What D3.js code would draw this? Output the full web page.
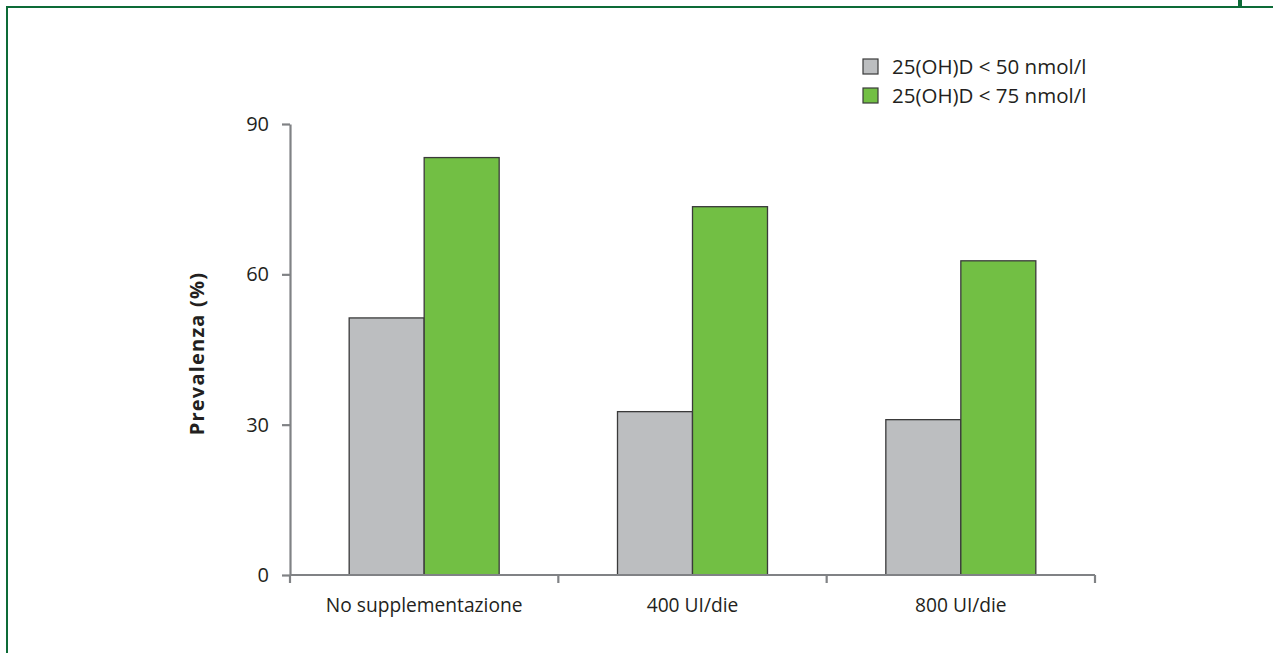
<!DOCTYPE html>
<html>
<head>
<meta charset="utf-8">
<script src="https://cdn.jsdelivr.net/npm/d3@7/dist/d3.min.js"></script>
<style>
  html, body { margin: 0; padding: 0; background: #ffffff; }
  svg { display: block; }
  text { font-family: "Open Sans", "Noto Sans", sans-serif; fill: #231f20; }
</style>
</head>
<body>
<svg id="chart" width="1273" height="653"></svg>
<script>
// Prevalence of low vitamin D levels by supplementation group
const categories = ["No supplementazione", "400 UI/die", "800 UI/die"];
const seriesNames = ["25(OH)D < 50 nmol/l", "25(OH)D < 75 nmol/l"];
const below50 = [51.3, 32.6, 31.0];
const below75 = [83.3, 73.5, 62.7];
const yTicks = [0, 30, 60, 90];
const yLabel = "Prevalenza (%)";
const seriesColors = ["#bcbec0", "#72bf44"];

const svg = d3.select("#chart");
const W = 1273, H = 653;

// Page frame: top and left rule with a small marker at the top right
svg.append("rect").attr("x", 6).attr("y", 6).attr("width", W - 6).attr("height", 2).attr("fill", "#0d6b37");
svg.append("rect").attr("x", 6).attr("y", 6).attr("width", 2).attr("height", H - 6).attr("fill", "#0d6b37");
svg.append("rect").attr("x", 1238).attr("y", 0).attr("width", 4).attr("height", 8).attr("fill", "#0d6b37");

const plot = { left: 290, right: 1095, top: 124, bottom: 575 };

const y = d3.scaleLinear().domain([0, 90]).range([plot.bottom, plot.top]);
const x0 = d3.scaleBand().domain(categories).range([plot.left, plot.right]).paddingInner(0).paddingOuter(0);
const pairHalf = 75;
const x1 = d3.scaleBand().domain(seriesNames)
  .range([x0.bandwidth() / 2 - pairHalf, x0.bandwidth() / 2 + pairHalf]).padding(0);

const axisColor = "#808285";

// Bars
const rows = categories.map((c, i) => ({ cat: c, vals: [below50[i], below75[i]] }));
const groups = svg.append("g").selectAll("g").data(rows).join("g")
  .attr("transform", d => `translate(${x0(d.cat)},0)`);
groups.selectAll("rect").data(d => d.vals.map((v, j) => ({ name: seriesNames[j], v, j })))
  .join("rect")
  .attr("x", d => x1(d.name))
  .attr("y", d => y(d.v))
  .attr("width", x1.bandwidth())
  .attr("height", d => y(0) - y(d.v))
  .attr("fill", d => seriesColors[d.j])
  .attr("stroke", "#3a3a3a")
  .attr("stroke-width", 1.3);

// Y axis
const yAxis = svg.append("g").attr("transform", `translate(${plot.left},0)`)
  .call(d3.axisLeft(y).tickValues(yTicks).tickSize(8).tickSizeOuter(0).tickPadding(13));
yAxis.select(".domain").attr("stroke", axisColor).attr("stroke-width", 2.2);
yAxis.selectAll(".tick line").attr("stroke", axisColor).attr("stroke-width", 2.2);
yAxis.selectAll(".tick text").attr("font-size", 20).attr("fill", "#231f20")
  .style("font-family", "'Open Sans', sans-serif");

// X axis: baseline with ticks at the category boundaries
const xBoundaries = categories.map(c => x0(c)).concat([plot.right]);
const xAxis = svg.append("g");
xAxis.append("line").attr("x1", plot.left).attr("x2", plot.right)
  .attr("y1", y(0)).attr("y2", y(0)).attr("stroke", axisColor).attr("stroke-width", 2.2);
xAxis.selectAll("line.tk").data(xBoundaries).join("line").attr("class", "tk")
  .attr("x1", d => d).attr("x2", d => d)
  .attr("y1", y(0)).attr("y2", y(0) + 8)
  .attr("stroke", axisColor).attr("stroke-width", 2.2);
xAxis.selectAll("text").data(categories).join("text")
  .attr("x", d => x0(d) + x0.bandwidth() / 2)
  .attr("y", y(0) + 37)
  .attr("text-anchor", "middle")
  .attr("font-size", 19.2)
  .text(d => d);

// Y axis title
svg.append("text")
  .attr("transform", `translate(204,${(plot.top + plot.bottom) / 2 + 4}) rotate(-90)`)
  .attr("text-anchor", "middle")
  .attr("font-size", 20)
  .attr("font-weight", "bold")
  .attr("letter-spacing", 1.2)
  .text(yLabel);

// Legend
const legend = svg.append("g").attr("transform", "translate(863,59)");
const li = legend.selectAll("g").data(seriesNames).join("g")
  .attr("transform", (d, i) => `translate(0,${i * 29})`);
li.append("rect").attr("width", 15).attr("height", 15)
  .attr("fill", (d, i) => seriesColors[i])
  .attr("stroke", "#3a3a3a").attr("stroke-width", 1.2);
li.append("text").attr("x", 29).attr("y", 15).attr("font-size", 20.5).text(d => d);
</script>
</body>
</html>
